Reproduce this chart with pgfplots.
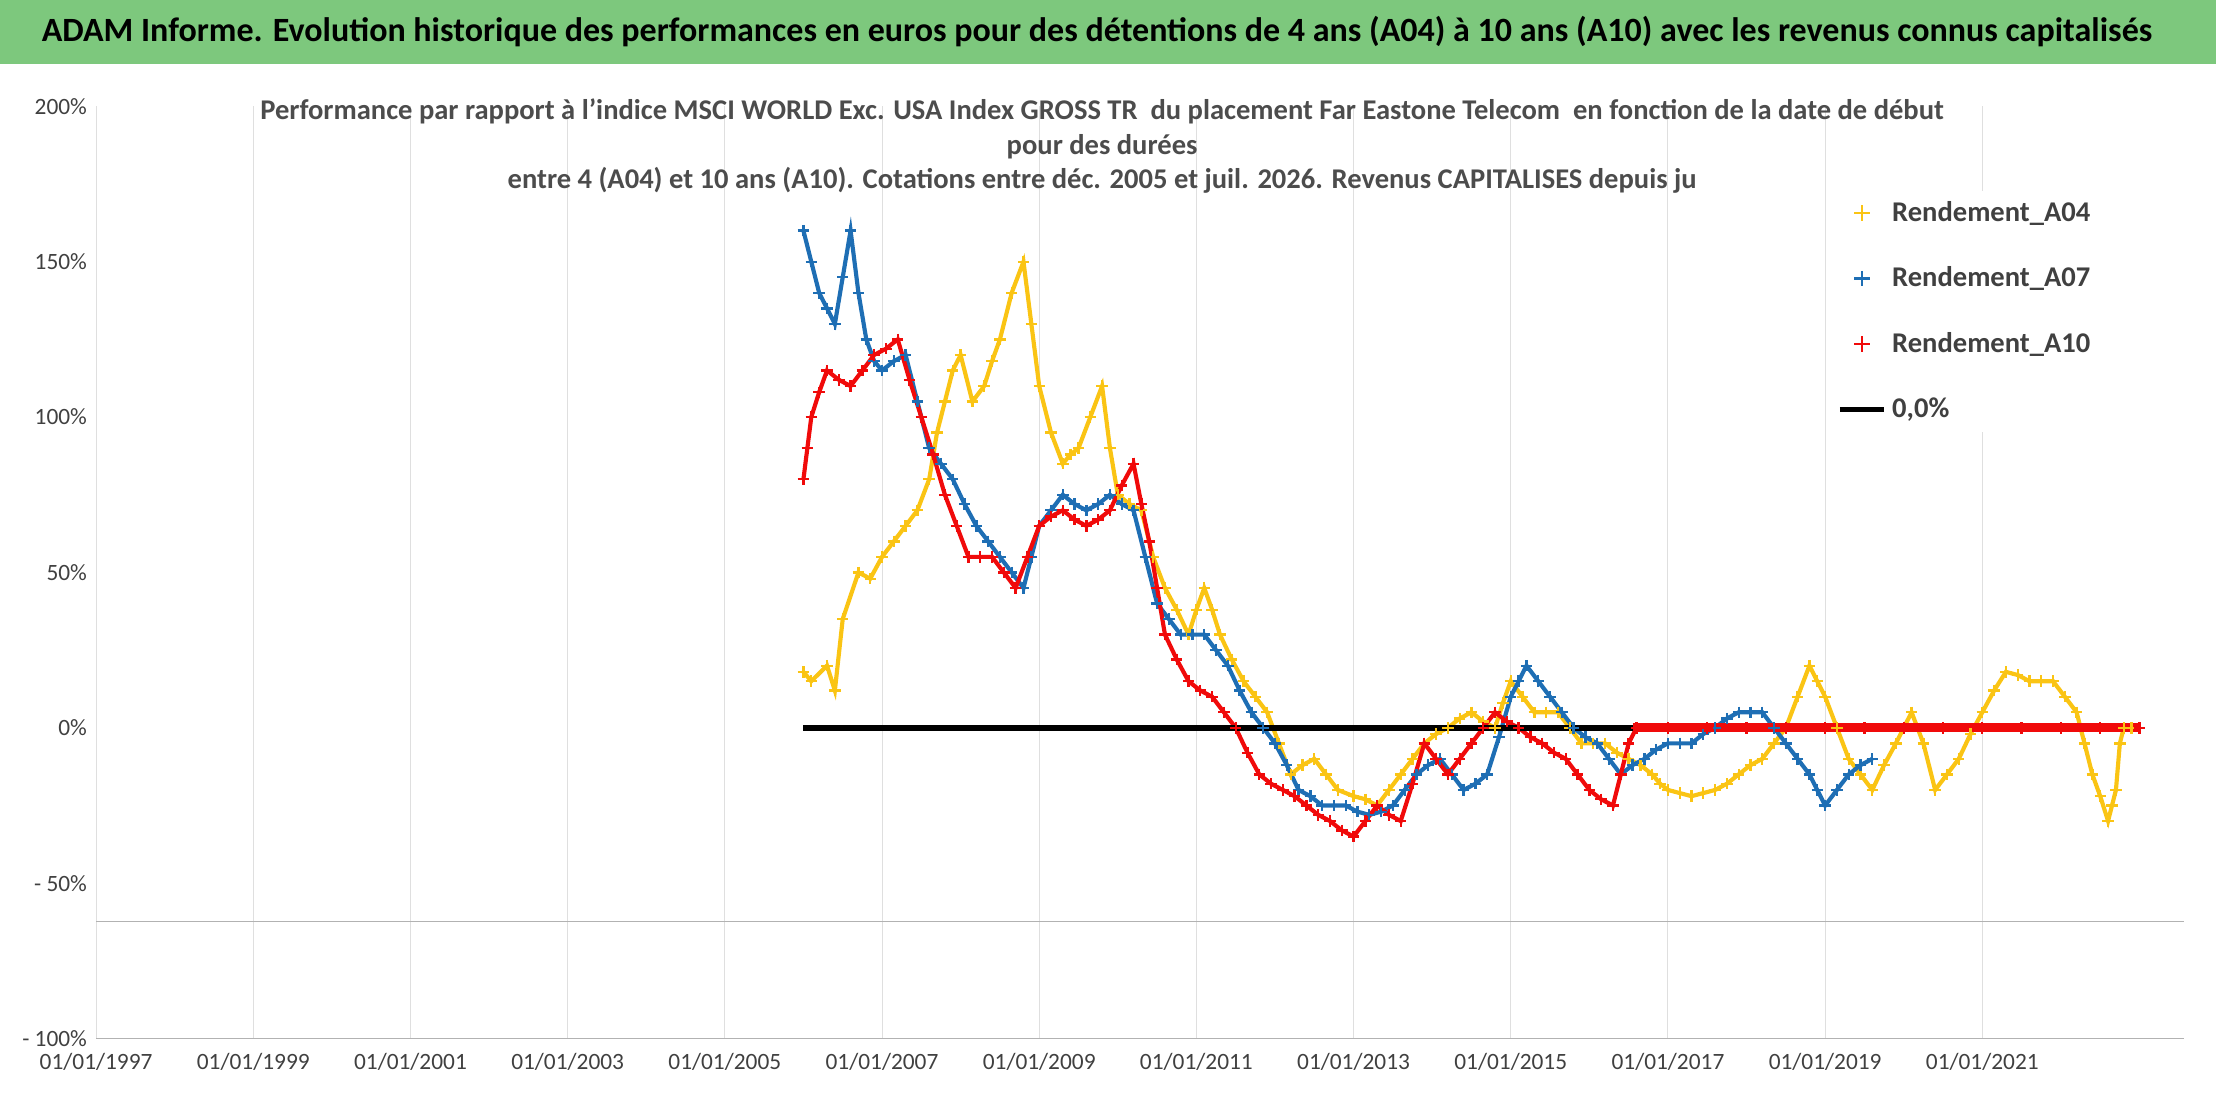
\documentclass[border=0pt]{standalone}
\usepackage{pgfplots}
\pgfplotsset{compat=1.18}
\usepackage{fontspec}
\setmainfont{Carlito}
\definecolor{cA}{RGB}{250,196,20}
\definecolor{cB}{RGB}{30,110,180}
\definecolor{cC}{RGB}{240,10,10}
\definecolor{ban}{RGB}{125,200,125}
\begin{document}
\begin{tikzpicture}
\path[use as bounding box] (-1.301,-0.861) rectangle (28.70,14.06);
\fill[ban] (-1.301,13.20) rectangle (28.70,14.06);
\node[font=\fontsize{13.1}{16}\selectfont\bfseries] at (13.55,13.63) {ADAM Informe. Evolution historique des performances en euros pour des détentions de 4 ans (A04) à 10 ans (A10) avec les revenus connus capitalisés};
\begin{axis}[at={(0,0)},anchor=south west,scale only axis,width=28.26cm,height=12.62cm,
 xmin=1997,xmax=2023.56,ymin=-100,ymax=200,
 axis line style={draw=none},
 xtick={1997,1999,...,2021},
 xticklabels={01/01/1997,01/01/1999,01/01/2001,01/01/2003,01/01/2005,01/01/2007,01/01/2009,01/01/2011,01/01/2013,01/01/2015,01/01/2017,01/01/2019,01/01/2021},
 ytick={-100,-50,0,50,100,150,200},
 yticklabels={- 100\%,- 50\%,0\%,50\%,100\%,150\%,200\%},
 tick style={draw=none},
 xmajorgrids, major grid style={gray!25},
 ticklabel style={font=\fontsize{9}{10}\selectfont,text=black!75},
 xticklabel style={yshift=-2pt},
 /pgf/number format/assume math mode=true,
 clip=false,
 legend style={at={(0.83,0.91)},anchor=north west,draw=none,fill=white,font=\fontsize{11}{13}\selectfont\bfseries,row sep=12pt,text=black!75},
 legend cell align=left,
 every axis plot post/.append style={mark options={solid,line width=0.9pt}},
]
\addplot[cA,line width=1.6pt,mark=+,mark size=2.2pt,legend image post style={only marks,mark size=3pt}] coordinates {(2006.0,18)(2006.1,15)(2006.3,20)(2006.4,12)(2006.5,35)(2006.7,50)(2006.85,48)(2007.0,55)(2007.15,60)(2007.3,65)(2007.45,70)(2007.6,80)(2007.7,95)(2007.8,105)(2007.9,115)(2008.0,120)(2008.15,105)(2008.3,110)(2008.4,118)(2008.5,125)(2008.65,140)(2008.8,150)(2008.9,130)(2009.0,110)(2009.15,95)(2009.3,85)(2009.4,88)(2009.5,90)(2009.65,100)(2009.8,110)(2009.9,90)(2010.0,75)(2010.15,72)(2010.3,70)(2010.45,55)(2010.6,45)(2010.75,38)(2010.9,30)(2011.0,38)(2011.1,45)(2011.2,38)(2011.3,30)(2011.45,22)(2011.6,15)(2011.75,10)(2011.9,5)(2012.05,-5)(2012.2,-15)(2012.35,-12)(2012.5,-10)(2012.65,-15)(2012.8,-20)(2013.0,-22)(2013.15,-23)(2013.3,-25)(2013.45,-20)(2013.6,-15)(2013.75,-10)(2013.9,-5)(2014.05,-2)(2014.2,0)(2014.35,3)(2014.5,5)(2014.65,2)(2014.8,0)(2014.9,8)(2015.0,15)(2015.15,10)(2015.3,5)(2015.45,5)(2015.6,5)(2015.75,0)(2015.9,-5)(2016.05,-5)(2016.2,-5)(2016.35,-8)(2016.5,-10)(2016.65,-12)(2016.8,-15)(2016.9,-18)(2017.0,-20)(2017.15,-21)(2017.3,-22)(2017.45,-21)(2017.6,-20)(2017.75,-18)(2017.9,-15)(2018.05,-12)(2018.2,-10)(2018.35,-5)(2018.5,0)(2018.65,10)(2018.8,20)(2018.9,15)(2019.0,10)(2019.15,0)(2019.3,-10)(2019.45,-15)(2019.6,-20)(2019.75,-12)(2019.9,-5)(2020.0,0)(2020.1,5)(2020.25,-5)(2020.4,-20)(2020.55,-15)(2020.7,-10)(2020.85,-2)(2021.0,5)(2021.15,12)(2021.3,18)(2021.45,17)(2021.6,15)(2021.75,15)(2021.9,15)(2022.05,10)(2022.2,5)(2022.3,-5)(2022.4,-15)(2022.5,-22)(2022.6,-30)(2022.65,-25)(2022.7,-20)(2022.75,-5)(2022.8,0)(2022.9,0)(2023.0,0)};
\addlegendentry{Rendement\_A04}
\addplot[cB,line width=1.6pt,mark=+,mark size=2.2pt,legend image post style={only marks,mark size=3pt}] coordinates {(2006.0,160)(2006.1,150)(2006.2,140)(2006.3,135)(2006.4,130)(2006.5,145)(2006.6,160)(2006.7,140)(2006.8,125)(2006.9,118)(2007.0,115)(2007.15,118)(2007.3,120)(2007.45,105)(2007.6,90)(2007.75,85)(2007.9,80)(2008.05,72)(2008.2,65)(2008.35,60)(2008.5,55)(2008.65,50)(2008.8,45)(2008.9,55)(2009.0,65)(2009.15,70)(2009.3,75)(2009.45,72)(2009.6,70)(2009.75,72)(2009.9,75)(2010.05,72)(2010.2,70)(2010.35,55)(2010.5,40)(2010.65,35)(2010.8,30)(2010.95,30)(2011.1,30)(2011.25,25)(2011.4,20)(2011.55,12)(2011.7,5)(2011.85,0)(2012.0,-5)(2012.15,-12)(2012.3,-20)(2012.45,-22)(2012.6,-25)(2012.75,-25)(2012.9,-25)(2013.05,-27)(2013.2,-28)(2013.35,-27)(2013.5,-25)(2013.65,-20)(2013.8,-15)(2013.95,-12)(2014.1,-10)(2014.25,-15)(2014.4,-20)(2014.55,-18)(2014.7,-15)(2014.85,-3)(2015.0,10)(2015.1,15)(2015.2,20)(2015.35,15)(2015.5,10)(2015.65,5)(2015.8,0)(2015.95,-3)(2016.1,-5)(2016.25,-10)(2016.4,-15)(2016.55,-12)(2016.7,-10)(2016.85,-7)(2017.0,-5)(2017.15,-5)(2017.3,-5)(2017.45,-2)(2017.6,0)(2017.75,3)(2017.9,5)(2018.05,5)(2018.2,5)(2018.35,0)(2018.5,-5)(2018.65,-10)(2018.8,-15)(2018.9,-20)(2019.0,-25)(2019.15,-20)(2019.3,-15)(2019.45,-12)(2019.6,-10)};
\addlegendentry{Rendement\_A07}
\addplot[cC,line width=1.6pt,mark=+,mark size=2.2pt,legend image post style={only marks,mark size=3pt}] coordinates {(2006.0,80)(2006.05,90)(2006.1,100)(2006.2,108)(2006.3,115)(2006.45,112)(2006.6,110)(2006.75,115)(2006.9,120)(2007.05,122)(2007.2,125)(2007.35,112)(2007.5,100)(2007.65,88)(2007.8,75)(2007.95,65)(2008.1,55)(2008.25,55)(2008.4,55)(2008.55,50)(2008.7,45)(2008.85,55)(2009.0,65)(2009.15,68)(2009.3,70)(2009.45,67)(2009.6,65)(2009.75,67)(2009.9,70)(2010.05,78)(2010.2,85)(2010.3,72)(2010.4,60)(2010.5,45)(2010.6,30)(2010.75,22)(2010.9,15)(2011.05,12)(2011.2,10)(2011.35,5)(2011.5,0)(2011.65,-8)(2011.8,-15)(2011.95,-18)(2012.1,-20)(2012.25,-22)(2012.4,-25)(2012.55,-28)(2012.7,-30)(2012.85,-33)(2013.0,-35)(2013.15,-30)(2013.3,-25)(2013.45,-28)(2013.6,-30)(2013.75,-18)(2013.9,-5)(2014.05,-10)(2014.2,-15)(2014.35,-10)(2014.5,-5)(2014.65,0)(2014.8,5)(2014.95,2)(2015.1,0)(2015.25,-3)(2015.4,-5)(2015.55,-8)(2015.7,-10)(2015.85,-15)(2016.0,-20)(2016.15,-23)(2016.3,-25)(2016.4,-15)(2016.5,-5)(2016.6,0)(2017.0,0)(2017.5,0)(2018.0,0)(2018.5,0)(2019.0,0)(2019.5,0)(2020.0,0)(2020.5,0)(2021.0,0)(2021.5,0)(2022.0,0)(2022.5,0)(2023.0,0)};
\addlegendentry{Rendement\_A10}
\addplot[black,line width=2.2pt] coordinates {(2006.0,0)(2016.55,0)};
\addlegendentry{0,0\%}
\addplot[cC,line width=3.5pt,forget plot] coordinates {(2016.55,0)(2023.0,0)};
\addplot[gray!60,forget plot] coordinates {(1997,-62.3)(2023.56,-62.3)};
\addplot[gray!60,forget plot] coordinates {(1997,-100)(2023.56,-100)};
\end{axis}
\node[font=\fontsize{11}{13.3}\selectfont\bfseries,text=black!70,align=center] at (13.62,12.08) {Performance par rapport à l'indice MSCI WORLD Exc. USA Index GROSS TR\ \ du placement Far Eastone Telecom\ \ en fonction de la date de début\\pour des durées\\entre 4 (A04) et 10 ans (A10). Cotations entre déc. 2005 et juil. 2026. Revenus CAPITALISES depuis ju};
\end{tikzpicture}
\end{document}
